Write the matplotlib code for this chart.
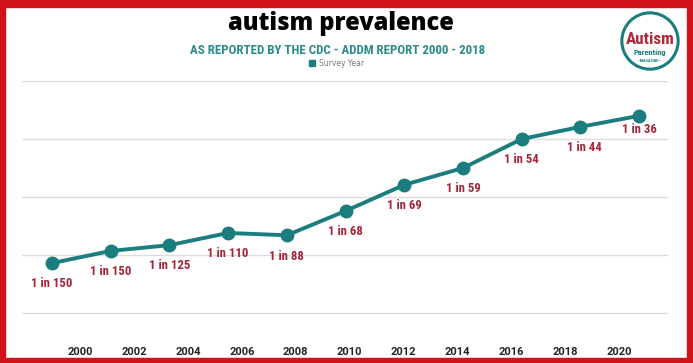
import numpy as np
import matplotlib.pyplot as plt
from matplotlib import font_manager as fm
from matplotlib.patches import Rectangle, Circle

# data
years = ['2000', '2002', '2004', '2006', '2008', '2010',
         '2012', '2014', '2016', '2018', '2020']
rates = ['1 in 150', '1 in 150', '1 in 125', '1 in 110', '1 in 88', '1 in 68',
         '1 in 69', '1 in 59', '1 in 54', '1 in 44', '1 in 36']
# plotted height (arbitrary units, one unit per gridline)
level = [0.86, 1.07, 1.17, 1.38, 1.34, 1.76, 2.21, 2.50, 3.00, 3.21, 3.40]

teal = '#1b7d7e'
darkred = '#a3263a'


# look for a narrow bold face, the original uses a condensed display font
def narrow_font():
    fonts = fm.fontManager.ttflist
    for want in ['Liberation Sans Narrow', 'Roboto Condensed', 'Open Sans Condensed',
                 'Noto Sans Condensed', 'DejaVu Sans Condensed']:
        for f in fonts:
            if f.name == want and f.weight in ('bold', 700):
                return f.fname
    for f in fonts:
        if f.stretch in ('condensed', 'semi-condensed', 'extra-condensed') and f.weight in ('bold', 700):
            return f.fname
    for f in fonts:
        if 'Cond' in f.fname and 'Bold' in f.fname:
            return f.fname
    return None


nf = narrow_font()


def nprop(size):
    if nf:
        return fm.FontProperties(fname=nf, size=size)
    return fm.FontProperties(family='DejaVu Sans', weight='bold', size=size * 0.8)


W, H = 693, 363
fig = plt.figure(figsize=(W / 100, H / 100), dpi=100)
fig.patch.set_facecolor('white')

# plot area in pixel terms
ax = fig.add_axes([22 / W, 21 / H, 646 / W, 261 / H])
ax.set_facecolor('none')
x = np.arange(len(years))
ax.plot(x, level, color=teal, lw=2.8, solid_joinstyle='round', solid_capstyle='round',
        marker='o', ms=9, zorder=3)
for i, (lv, r) in enumerate(zip(level, rates)):
    dy = -10 if i == len(rates) - 1 else -15
    dx = 3 if i == len(rates) - 2 else 0
    ax.annotate(r, (i, lv), xytext=(dx, dy), textcoords='offset points',
                ha='center', va='center', color=darkred, fontproperties=nprop(9.2))

ax.set_xlim(-0.51, 10.49)
ax.set_ylim(-0.5, 4)
ax.set_yticks([0, 1, 2, 3, 4])
ax.set_yticklabels([])
ax.grid(axis='y', color='#dcdcdc', lw=1)
ax.tick_params(axis='y', length=0)
ax.set_xticks(np.linspace(0.48, 9.66, len(years)))
ax.set_xticklabels(years, fontsize=8, fontweight='bold', family='Roboto', color='#222222')
ax.tick_params(axis='x', length=0, pad=3.5)
for s in ax.spines.values():
    s.set_visible(False)

# titles
fig.text(341 / W, 1 - 24 / H, 'autism prevalence', ha='center', va='center',
         fontsize=17, fontweight='heavy', family='Open Sans', color='black')
fig.text(338 / W, 1 - 51 / H, 'AS REPORTED BY THE CDC - ADDM REPORT 2000 - 2018',
         ha='center', va='center', color='#2a8a8a', fontproperties=nprop(9.3))
fig.patches.append(Rectangle((309 / W, 1 - 66 / H), 6 / W, 6 / H, color=teal,
                             transform=fig.transFigure, figure=fig))
fig.text(319 / W, 1 - 63 / H, 'Survey Year', ha='left', va='center',
         fontsize=5.5, color='#777777')

# logo
lax = fig.add_axes([(650 - 32) / W, 1 - (41 + 32) / H, 64 / W, 64 / H])
lax.set_xlim(-1, 1)
lax.set_ylim(-1, 1)
lax.axis('off')
lax.add_patch(Circle((0, 0), 0.88, fill=False, ec=teal, lw=2.2))
lax.text(0, 0.04, 'Autism', ha='center', va='center', color='#b0283a', fontproperties=nprop(12.3))
lax.text(0, -0.36, 'Parenting', ha='center', va='center', color=teal, fontproperties=nprop(6))
lax.text(0, -0.62, '—MAGAZINE—', ha='center', va='center', color=teal, fontproperties=nprop(3))

# red frame
red = '#d0121b'
for (x0, y0, w, h) in [(0, 0, W, 5), (0, H - 7, W, 7), (0, 0, 5, H), (W - 6, 0, 6, H)]:
    fig.patches.append(Rectangle((x0 / W, y0 / H), w / W, h / H, color=red,
                                 transform=fig.transFigure, figure=fig, zorder=10))

fig.savefig('out.png', dpi=100)
